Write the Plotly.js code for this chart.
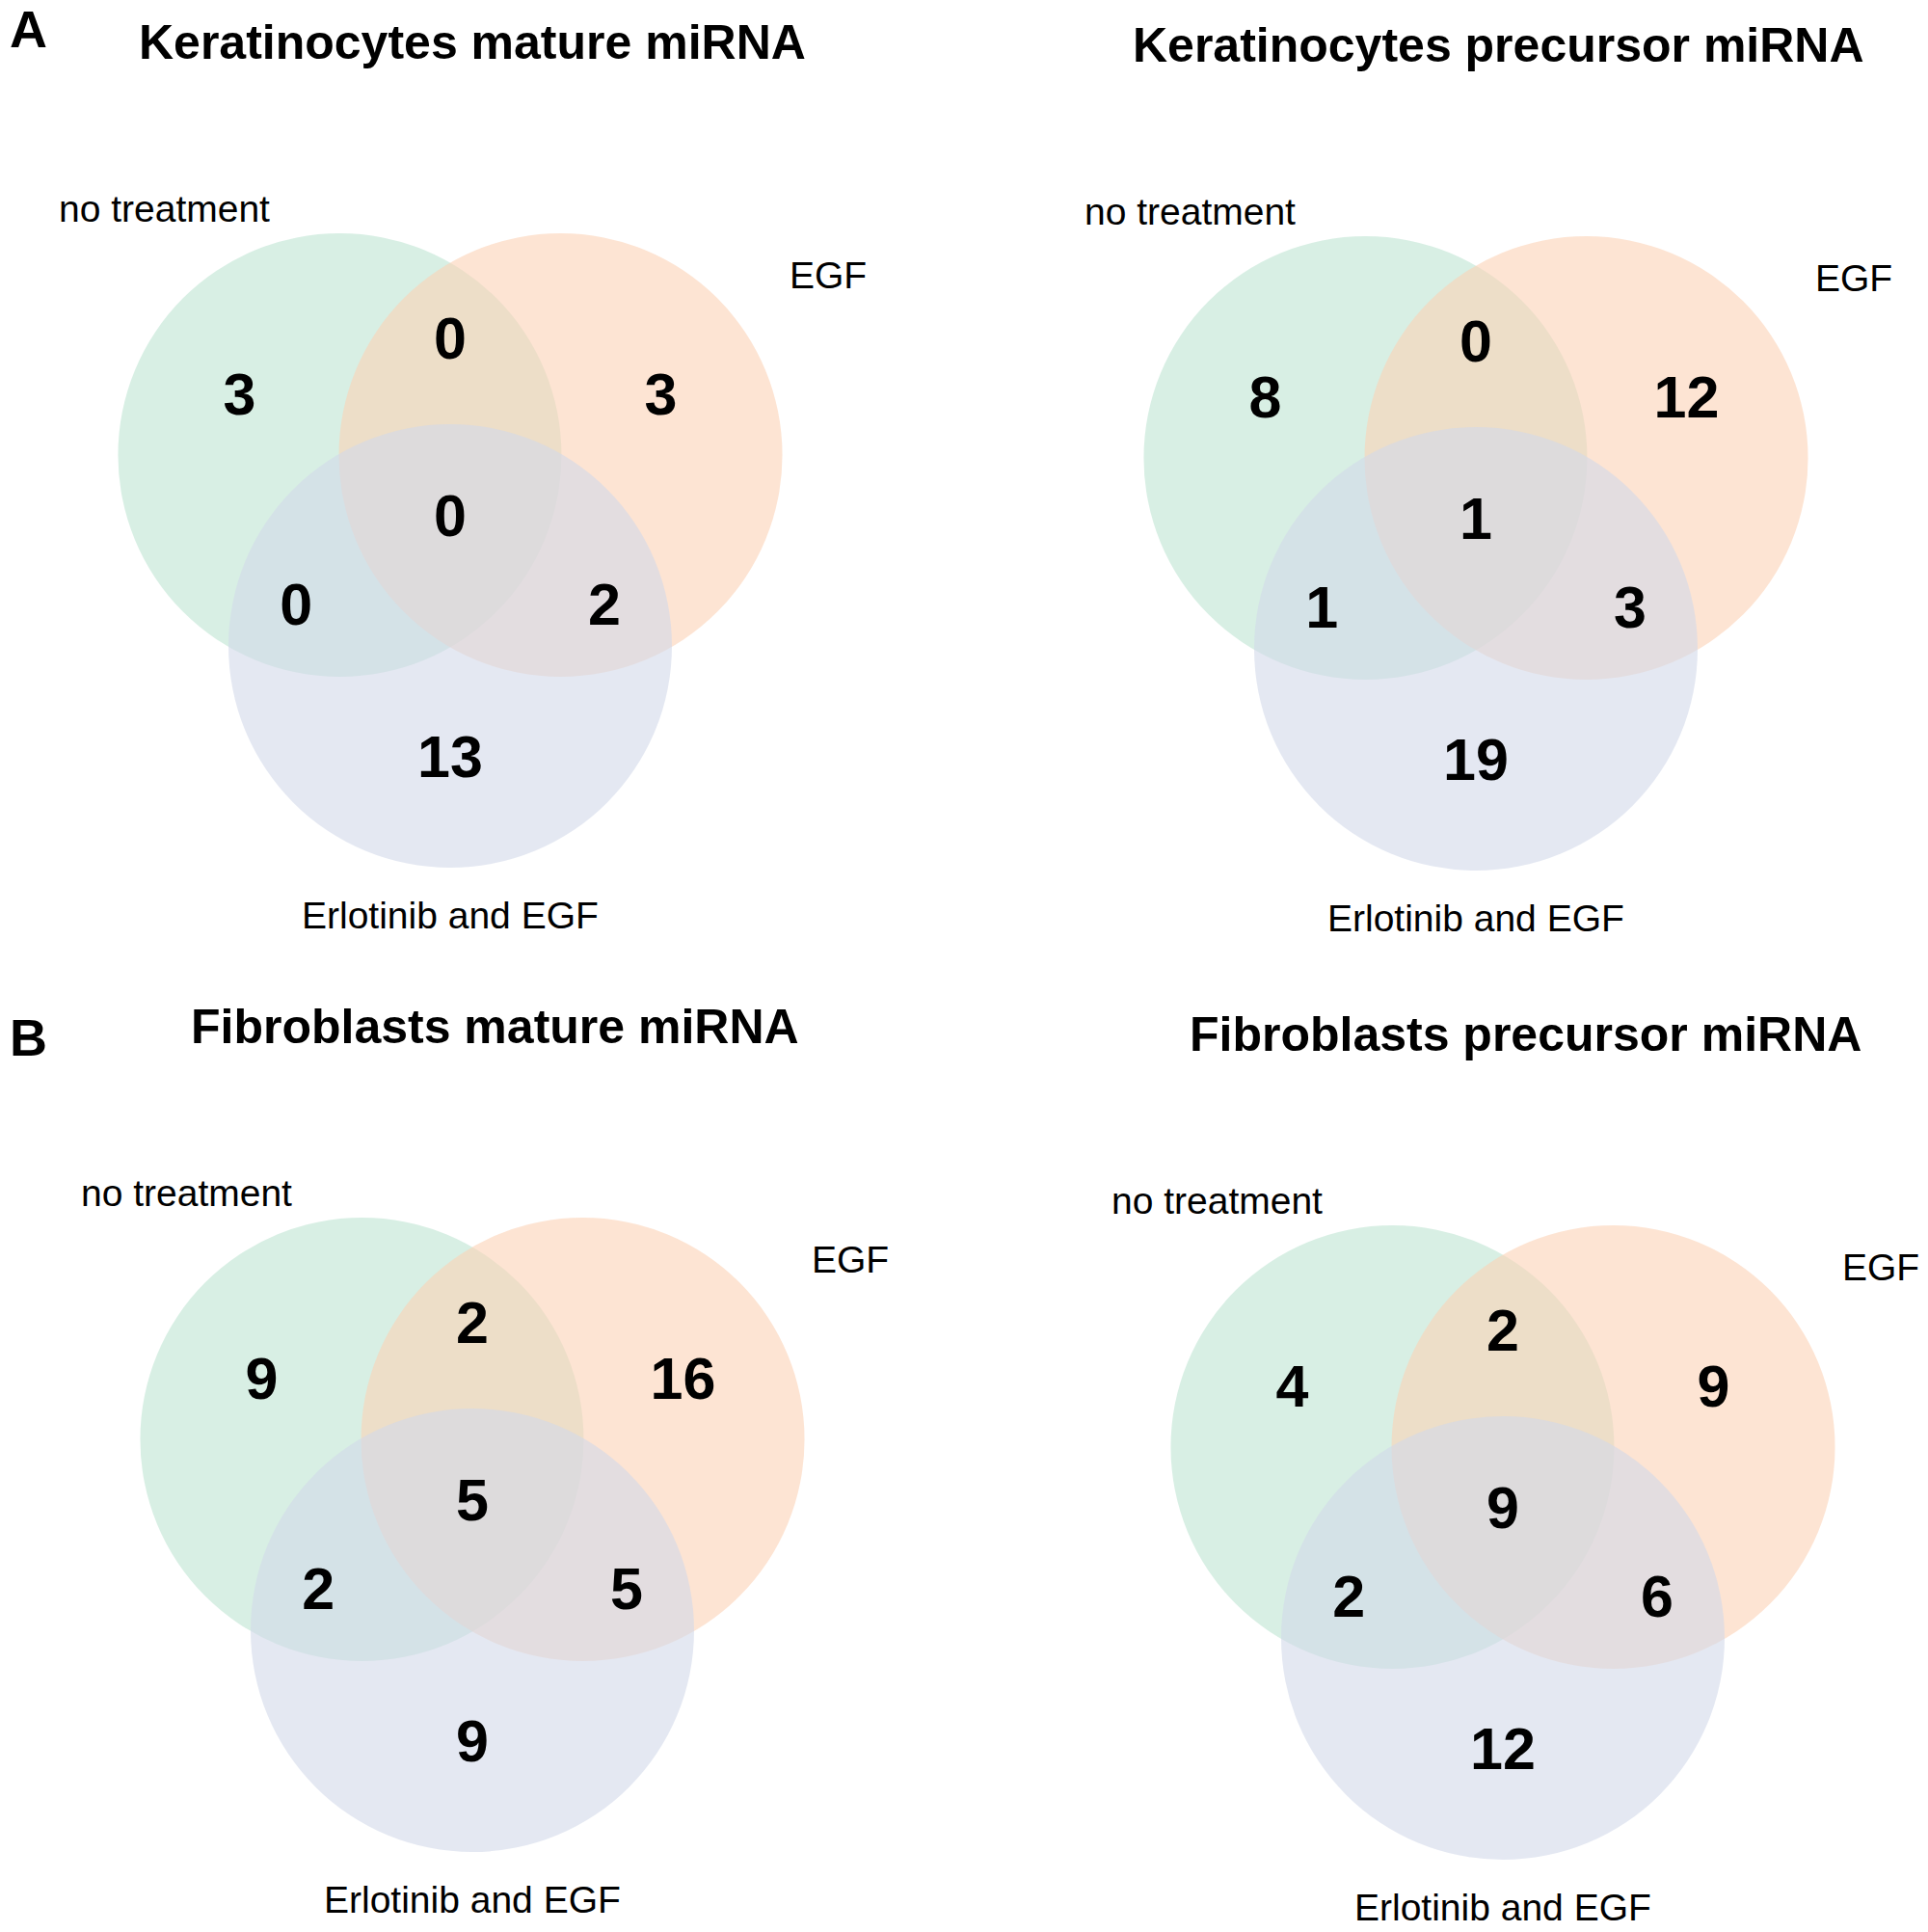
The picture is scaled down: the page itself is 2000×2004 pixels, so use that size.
<!DOCTYPE html>
<html>
<head>
<meta charset="utf-8">
<script src="https://cdn.plot.ly/plotly-3.0.1.min.js"></script>
<style>body{margin:0;background:#fff}</style>
</head>
<body>
<div id="venn"></div>
<script>
const panelTitles = ['Keratinocytes mature miRNA', 'Keratinocytes precursor miRNA',
  'Fibroblasts mature miRNA', 'Fibroblasts precursor miRNA'];
const rowLetters = ['A', 'B'];
const setNames = ['no treatment', 'EGF', 'Erlotinib and EGF'];
// region order: only NT, NT+EGF, only EGF, all three, NT+Erl, EGF+Erl, only Erl
const kerMature = [3, 0, 3, 0, 0, 2, 13];
const kerPrecursor = [8, 0, 12, 1, 1, 3, 19];
const fibMature = [9, 2, 16, 5, 2, 5, 9];
const fibPrecursor = [4, 2, 9, 9, 2, 6, 12];
const panelCounts = [kerMature, kerPrecursor, fibMature, fibPrecursor];

// geometry of the figure (pixels), one entry per panel
const W = 2000, H = 2004, r = 230;
const centres = [[467, 538], [1531, 541], [490, 1559], [1559, 1567]];
const circleOff = [[-0.498, -0.287], [0.498, -0.287], [0, 0.574]];
const regionOff = [[-0.95, -0.535], [0, -0.787], [0.95, -0.535], [0, 0.01],
  [-0.695, 0.413], [0.695, 0.413], [0, 1.1]];
const nameOff = [[-1.29, -1.397], [1.705, -1.1], [0, 1.79]];
const titleOff = [0.1, -2.15];
const letterPos = [[29, 30], [29, 1076]];
const setColours = ['#bee4d2', '#fcd2b6', '#d2d8ea'];
const font = 'Liberation Sans, Arial, sans-serif';

var shapes = [];
var annotations = [];
var tx = [], ty = [], tt = [];

panelCounts.forEach((counts, p) => {
  let [cx, cy] = centres[p];
  circleOff.forEach((o, s) => {
    let x = cx + o[0] * r, y = cy + o[1] * r;
    shapes.push({
      type: 'circle', xref: 'x', yref: 'y',
      x0: x - r, x1: x + r, y0: y - r, y1: y + r,
      fillcolor: setColours[s], opacity: 0.6,
      line: { width: 0 }, layer: 'below'
    });
  });
  counts.forEach((c, i) => {
    tx.push(cx + regionOff[i][0] * r);
    ty.push(cy + regionOff[i][1] * r);
    tt.push(String(c));
  });
  setNames.forEach((name, s) => {
    annotations.push({
      x: cx + nameOff[s][0] * r, y: cy + nameOff[s][1] * r,
      xref: 'x', yref: 'y', text: name, showarrow: false,
      xanchor: 'center', yanchor: 'middle',
      font: { family: font, size: 39, color: '#000' }
    });
  });
  annotations.push({
    x: cx + titleOff[0] * r, y: cy + titleOff[1] * r,
    xref: 'x', yref: 'y', text: '<b>' + panelTitles[p] + '</b>', showarrow: false,
    xanchor: 'center', yanchor: 'middle',
    font: { family: font, size: 50, color: '#000' }
  });
});

rowLetters.forEach((l, i) => {
  annotations.push({
    x: letterPos[i][0], y: letterPos[i][1], xref: 'x', yref: 'y',
    text: '<b>' + l + '</b>', showarrow: false,
    xanchor: 'center', yanchor: 'middle',
    font: { family: font, size: 54, color: '#000' }
  });
});

var data = [{
  x: tx, y: ty, text: tt, mode: 'text', type: 'scatter',
  textposition: 'middle center', hoverinfo: 'none',
  textfont: { family: font, size: 61, color: '#000', weight: 'bold' }
}];

var layout = {
  width: W, height: H,
  margin: { l: 0, r: 0, t: 0, b: 0 },
  paper_bgcolor: '#fff', plot_bgcolor: '#fff',
  showlegend: false, hovermode: false,
  xaxis: { range: [0, W], visible: false, fixedrange: true },
  yaxis: { range: [H, 0], visible: false, fixedrange: true },
  shapes, annotations
};

Plotly.newPlot('venn', data, layout, { displayModeBar: false, staticPlot: true });
</script>
</body>
</html>
